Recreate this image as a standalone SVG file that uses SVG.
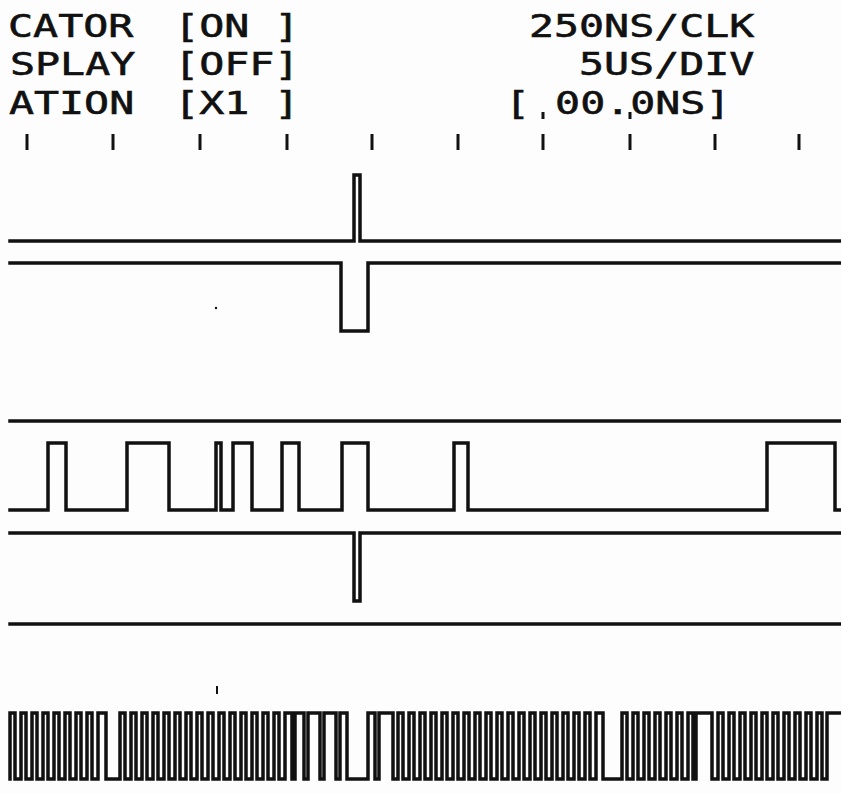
<svg xmlns="http://www.w3.org/2000/svg" width="841" height="794" viewBox="0 0 841 794">
<style>
.t{font-family:"DejaVu Sans Mono","Liberation Mono",monospace;font-size:32px;fill:#111;stroke:#111;stroke-width:0.6;letter-spacing:0px}
.w{fill:none;stroke:#111;stroke-width:3.5;stroke-linejoin:miter;stroke-linecap:square}
.tk{stroke:#111;stroke-width:3}
</style>
<rect width="841" height="794" fill="#fdfdfd"/>
<g id="header" transform="scale(1.3,1)">
<text class="t" x="6.2" y="37">CATOR</text>
<text class="t" x="134" y="37">[ON ]</text>
<text class="t" x="406.9" y="37">250NS/CLK</text>
<text class="t" x="7.7" y="75.5">SPLAY</text>
<text class="t" x="134" y="75.5">[OFF]</text>
<text class="t" x="445.4" y="75.5">5US/DIV</text>
<text class="t" x="6.9" y="114">ATION</text>
<text class="t" x="134" y="114">[X1 ]</text>
<text class="t" x="388.5" y="114">[ 00.0NS]</text>
</g>
<g id="ticks" class="tk">
<line x1="27" y1="134" x2="27" y2="150"/>
<line x1="113" y1="134" x2="113" y2="150"/>
<line x1="200" y1="134" x2="200" y2="150"/>
<line x1="287" y1="134" x2="287" y2="150"/>
<line x1="372" y1="134" x2="372" y2="150"/>
<line x1="458" y1="134" x2="458" y2="150"/>
<line x1="543" y1="134" x2="543" y2="150"/>
<line x1="630" y1="134" x2="630" y2="150"/>
<line x1="715" y1="134" x2="715" y2="150"/>
<line x1="799" y1="134" x2="799" y2="150"/>
<line x1="543" y1="112" x2="543" y2="119"/>
<line x1="630" y1="112" x2="630" y2="119"/>
</g>
<g id="ch1"><path class="w" d="M10,241 H354 V175 H360 V241 H841"/></g>
<g id="ch2"><path class="w" d="M10,263 H341 V331 H368 V263 H841"/></g>
<g id="ch3"><path class="w" d="M10,421 H841"/></g>
<g id="ch4"><path class="w" d="M10,510 H48 V443 H66 V510 H127 V443 H169 V510 H216 V443 H221 V510 H233 V443 H252 V510 H282 V443 H299 V510 H342 V443 H368 V510 H454 V443 H468 V510 H767 V443 H835 V510 H841"/></g>
<g id="ch5"><path class="w" d="M10,533 H354 V601 H360 V533 H841"/></g>
<g id="ch6"><path class="w" d="M10,624 H841"/></g>
<g id="ch7"><path class="w" d="M10,779 V713 H15 V779 H21 V713 H26 V779 H32 V713 H37 V779 H43 V713 H48 V779 H54 V713 H59 V779 H65 V713 H70 V779 H76 V713 H81 V779 H87 V713 H92 V779 H98 V713 H106 V779 H120 V713 H125 V779 H131 V713 H136 V779 H142 V713 H147 V779 H153 V713 H158 V779 H164 V713 H169 V779 H175 V713 H180 V779 H186 V713 H191 V779 H197 V713 H202 V779 H208 V713 H213 V779 H219 V713 H224 V779 H230 V713 H235 V779 H241 V713 H246 V779 H252 V713 H257 V779 H263 V713 H268 V779 H274 V713 H279 V779 H285 V713 H292 V779 H295 V713 H304 V779 H308 V713 H320 V779 H324 V713 H336 V779 H340 V713 H347 V779 H368 V713 H375 V779 H379 V713 H393 V779 H398 V713 H403 V779 H409 V713 H414 V779 H420 V713 H425 V779 H431 V713 H436 V779 H442 V713 H447 V779 H453 V713 H458 V779 H464 V713 H469 V779 H475 V713 H480 V779 H486 V713 H491 V779 H497 V713 H502 V779 H508 V713 H513 V779 H519 V713 H524 V779 H530 V713 H535 V779 H541 V713 H546 V779 H552 V713 H557 V779 H563 V713 H568 V779 H574 V713 H579 V779 H585 V713 H590 V779 H596 V713 H603 V779 H622 V713 H627 V779 H633 V713 H638 V779 H644 V713 H649 V779 H655 V713 H660 V779 H666 V713 H671 V779 H677 V713 H682 V779 H688 V713 H693 V779 H696 V713 H712 V779 H718 V713 H723 V779 H729 V713 H734 V779 H740 V713 H745 V779 H751 V713 H756 V779 H762 V713 H767 V779 H773 V713 H778 V779 H784 V713 H789 V779 H795 V713 H800 V779 H806 V713 H811 V779 H817 V713 H822 V779 H827 V713 H841"/></g>
<g id="specks" fill="#111" stroke="#111">
<circle cx="216" cy="308" r="1.2" stroke="none"/>
<line x1="217" y1="686" x2="217" y2="694" stroke-width="2"/>
</g>
</svg>
